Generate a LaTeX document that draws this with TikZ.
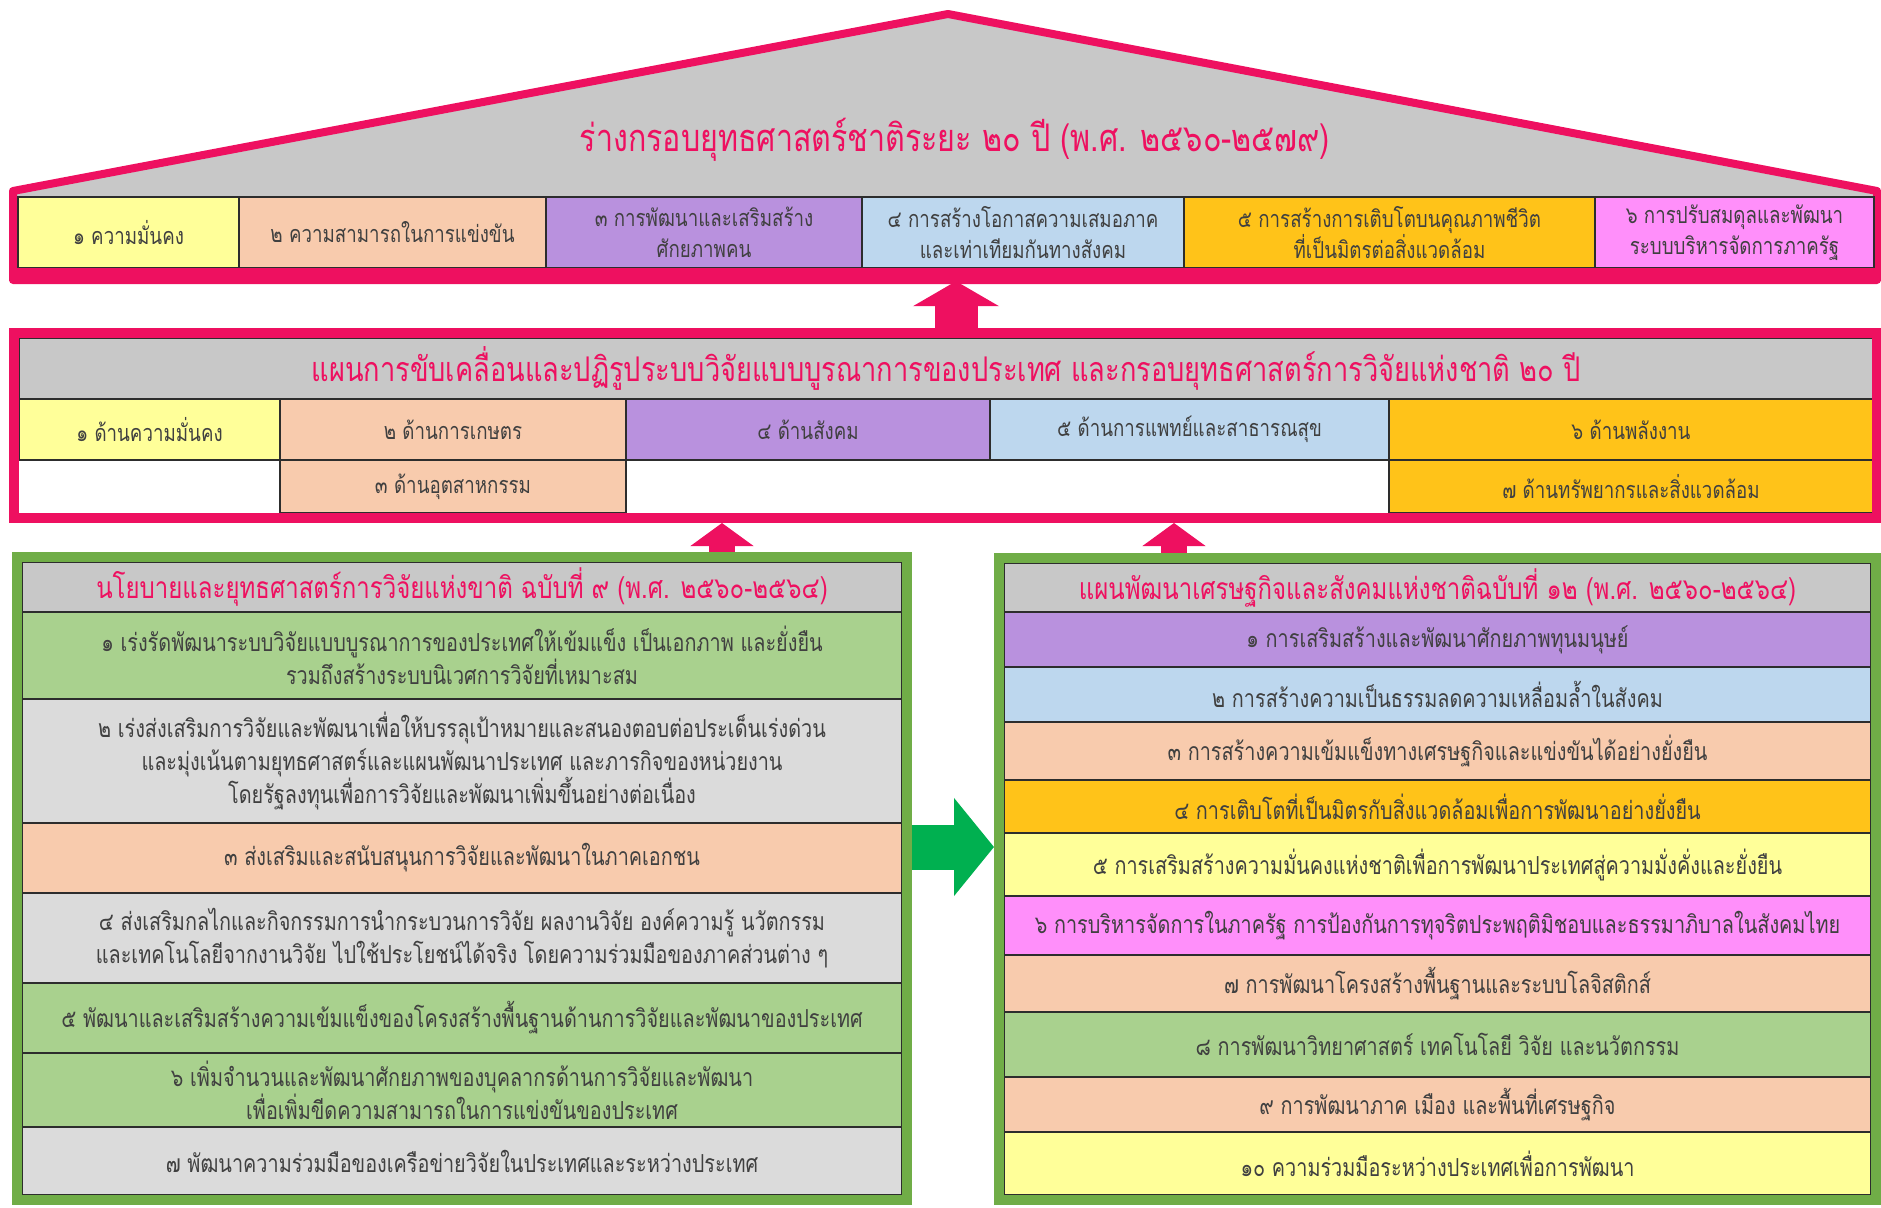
\documentclass[tikz,border=0pt]{standalone}
\usepackage{fontspec}
\newfontfamily\thaifont[Script=Thai,FakeStretch=0.8]{Loma}
\usetikzlibrary{fit}
\usetikzlibrary{positioning}
\usetikzlibrary{arrows.meta}
\usetikzlibrary{calc}

\definecolor{magline}{RGB}{238,16,96}
\definecolor{roofgray}{RGB}{200,200,200}
\definecolor{titlegray}{RGB}{200,200,200}
\definecolor{rowgray}{RGB}{219,219,219}
\definecolor{paleyellow}{RGB}{255,255,153}
\definecolor{peach}{RGB}{248,203,173}
\definecolor{lavender}{RGB}{185,145,222}
\definecolor{paleblue}{RGB}{189,215,238}
\definecolor{gold}{RGB}{255,195,25}
\definecolor{pinkviolet}{RGB}{255,143,250}
\definecolor{leafgreen}{RGB}{169,209,142}
\definecolor{framegreen}{RGB}{112,173,71}
\definecolor{arrowgreen}{RGB}{0,176,80}
\definecolor{bodytext}{RGB}{64,64,64}
\definecolor{cellline}{RGB}{45,45,45}

\tikzset{
  cell/.style={draw=cellline, line width=1.2pt, inner sep=0pt, align=center,
    text=bodytext, font=\thaifont\fontsize{23.4}{31}\selectfont},
  listcell/.style={cell, font=\thaifont\fontsize{24.8}{33}\selectfont},
  headcell/.style={cell, fill=titlegray, text=magline,
    font=\thaifont\fontsize{30}{36}\selectfont},
  magframe/.style={draw=magline, line width=10pt, inner sep=0pt},
  greenframe/.style={draw=framegreen, line width=10pt, inner sep=0pt},
  bigup/.style={draw=magline, line width=43pt, -{Triangle[length=25pt,width=85pt]}},
  smallup/.style={draw=magline, line width=26pt, -{Triangle[length=23pt,width=62pt]}},
  greenright/.style={draw=arrowgreen, line width=45pt, -{Triangle[length=40pt,width=96pt]}},
}

\begin{document}
\begin{tikzpicture}[x=1pt,y=-1pt]
  \fill[white] (0,0) rectangle (1881,1207);
  \useasboundingbox (0,0) rectangle (1881,1207);

  % roof: 20 year national strategy
  \draw[magline, line width=8pt, fill=roofgray, line join=round]
    (13,280) -- (13,191) -- (948,14) -- (1877,191) -- (1877,280) -- cycle;
  \node[text=magline, font=\thaifont\fontsize{38}{44}\selectfont] (vtitle) at (955,140)
    {ร่างกรอบยุทธศาสตร์ชาติระยะ ๒๐ ปี (พ.ศ. ๒๕๖๐-๒๕๗๙)};
  \foreach \nm/\xa/\xb/\clr/\txt in {
      v1/18/239/paleyellow/{๑ ความมั่นคง},
      v2/239/546/peach/{๒ ความสามารถในการแข่งขัน},
      v3/546/862/lavender/{๓ การพัฒนาและเสริมสร้าง\\ศักยภาพคน},
      v4/862/1184/paleblue/{๔ การสร้างโอกาสความเสมอภาค\\และเท่าเทียมกันทางสังคม},
      v5/1184/1595/gold/{๕ การสร้างการเติบโตบนคุณภาพชีวิต\\ที่เป็นมิตรต่อสิ่งแวดล้อม},
      v6/1595/1874/pinkviolet/{๖ การปรับสมดุลและพัฒนา\\ระบบบริหารจัดการภาครัฐ}}
    \node[cell, fill=\clr, minimum width=\xb-\xa, minimum height=71]
      (\nm) at ($(\xa,197)!0.5!(\xb,268)$) {\txt};
  \node[fill=magline, inner sep=0pt, fit={(9,268) (1881,281)}] (vbar) {};

  % research reform plan
  \node[headcell, minimum width=1854, minimum height=61, font=\thaifont\fontsize{34}{40}\selectfont]
    (rtitle) at (946,368.5)
    {แผนการขับเคลื่อนและปฏิรูประบบวิจัยแบบบูรณาการของประเทศ และกรอบยุทธศาสตร์การวิจัยแห่งชาติ ๒๐ ปี};
  \foreach \nm/\xa/\xb/\ya/\yb/\clr/\txt in {
      r1/19/280/399/460/paleyellow/{๑ ด้านความมั่นคง},
      r2/280/626/399/460/peach/{๒ ด้านการเกษตร},
      r4/626/990/399/460/lavender/{๔ ด้านสังคม},
      r5/990/1389/399/460/paleblue/{๕ ด้านการแพทย์และสาธารณสุข},
      r6/1389/1873/399/460/gold/{๖ ด้านพลังงาน},
      r3/280/626/460/513/peach/{๓ ด้านอุตสาหกรรม},
      r7/1389/1873/460/513/gold/{๗ ด้านทรัพยากรและสิ่งแวดล้อม}}
    \node[cell, fill=\clr, minimum width=\xb-\xa, minimum height=\yb-\ya]
      (\nm) at ($(\xa,\ya)!0.5!(\xb,\yb)$) {\txt};
  \node[magframe, fit={(14,333) (1877,518)}] (reform) {};

  % research policy no. 9
  \node[headcell, minimum width=880, minimum height=50] (p0) at (462,587)
    {นโยบายและยุทธศาสตร์การวิจัยแห่งขาติ ฉบับที่ ๙ (พ.ศ. ๒๕๖๐-๒๕๖๔)};
  \foreach \nm/\ya/\yb/\clr/\txt in {
      p1/612/699/leafgreen/{๑ เร่งรัดพัฒนาระบบวิจัยแบบบูรณาการของประเทศให้เข้มแข็ง เป็นเอกภาพ และยั่งยืน\\รวมถึงสร้างระบบนิเวศการวิจัยที่เหมาะสม},
      p2/699/823/rowgray/{๒ เร่งส่งเสริมการวิจัยและพัฒนาเพื่อให้บรรลุเป้าหมายและสนองตอบต่อประเด็นเร่งด่วน\\และมุ่งเน้นตามยุทธศาสตร์และแผนพัฒนาประเทศ และภารกิจของหน่วยงาน\\โดยรัฐลงทุนเพื่อการวิจัยและพัฒนาเพิ่มขึ้นอย่างต่อเนื่อง},
      p3/823/893/peach/{๓ ส่งเสริมและสนับสนุนการวิจัยและพัฒนาในภาคเอกชน},
      p4/893/983/rowgray/{๔ ส่งเสริมกลไกและกิจกรรมการนำกระบวนการวิจัย ผลงานวิจัย องค์ความรู้ นวัตกรรม\\และเทคโนโลยีจากงานวิจัย ไปใช้ประโยชน์ได้จริง โดยความร่วมมือของภาคส่วนต่าง ๆ},
      p5/983/1053/leafgreen/{๕ พัฒนาและเสริมสร้างความเข้มแข็งของโครงสร้างพื้นฐานด้านการวิจัยและพัฒนาของประเทศ},
      p6/1053/1127/leafgreen/{๖ เพิ่มจำนวนและพัฒนาศักยภาพของบุคลากรด้านการวิจัยและพัฒนา\\เพื่อเพิ่มขีดความสามารถในการแข่งขันของประเทศ},
      p7/1127/1195/rowgray/{๗ พัฒนาความร่วมมือของเครือข่ายวิจัยในประเทศและระหว่างประเทศ}}
    \node[listcell, fill=\clr, minimum width=880, minimum height=\yb-\ya]
      (\nm) at ($(22,\ya)!0.5!(902,\yb)$) {\txt};
  \node[greenframe, fit={(17,557) (907,1200)}] (policy) {};

  % 12th national economic and social development plan
  \node[headcell, minimum width=867, minimum height=49] (n0) at (1437.5,587.5)
    {แผนพัฒนาเศรษฐกิจและสังคมแห่งชาติฉบับที่ ๑๒ (พ.ศ. ๒๕๖๐-๒๕๖๔)};
  \foreach \nm/\ya/\yb/\clr/\txt in {
      n1/612/667/lavender/{๑ การเสริมสร้างและพัฒนาศักยภาพทุนมนุษย์},
      n2/667/722/paleblue/{๒ การสร้างความเป็นธรรมลดความเหลื่อมล้ำในสังคม},
      n3/722/780/peach/{๓ การสร้างความเข้มแข็งทางเศรษฐกิจและแข่งขันได้อย่างยั่งยืน},
      n4/780/833/gold/{๔ การเติบโตที่เป็นมิตรกับสิ่งแวดล้อมเพื่อการพัฒนาอย่างยั่งยืน},
      n5/833/896/paleyellow/{๕ การเสริมสร้างความมั่นคงแห่งชาติเพื่อการพัฒนาประเทศสู่ความมั่งคั่งและยั่งยืน},
      n6/896/955/pinkviolet/{๖ การบริหารจัดการในภาครัฐ การป้องกันการทุจริตประพฤติมิชอบและธรรมาภิบาลในสังคมไทย},
      n7/955/1012/peach/{๗ การพัฒนาโครงสร้างพื้นฐานและระบบโลจิสติกส์},
      n8/1012/1077/leafgreen/{๘ การพัฒนาวิทยาศาสตร์ เทคโนโลยี วิจัย และนวัตกรรม},
      n9/1077/1132/peach/{๙ การพัฒนาภาค เมือง และพื้นที่เศรษฐกิจ},
      n10/1132/1195/paleyellow/{๑๐ ความร่วมมือระหว่างประเทศเพื่อการพัฒนา}}
    \node[listcell, fill=\clr, minimum width=867, minimum height=\yb-\ya]
      (\nm) at ($(1004,\ya)!0.5!(1871,\yb)$) {\txt};
  \node[greenframe, fit={(999,558) (1876,1200)}] (nesdp) {};

  % arrows
  \coordinate (upmid) at (956,0);
  \coordinate (upleft) at (722,0);
  \coordinate (upright) at (1174,0);
  \coordinate (gmid) at (0,847);
  \draw[bigup] (upmid |- reform.north) -- (upmid |- vbar.south);
  \draw[smallup] (upleft |- policy.north) -- (upleft |- reform.south);
  \draw[smallup] (upright |- nesdp.north) -- (upright |- reform.south);
  \draw[greenright] (policy.east |- gmid) -- (nesdp.west |- gmid);
\end{tikzpicture}
\end{document}
